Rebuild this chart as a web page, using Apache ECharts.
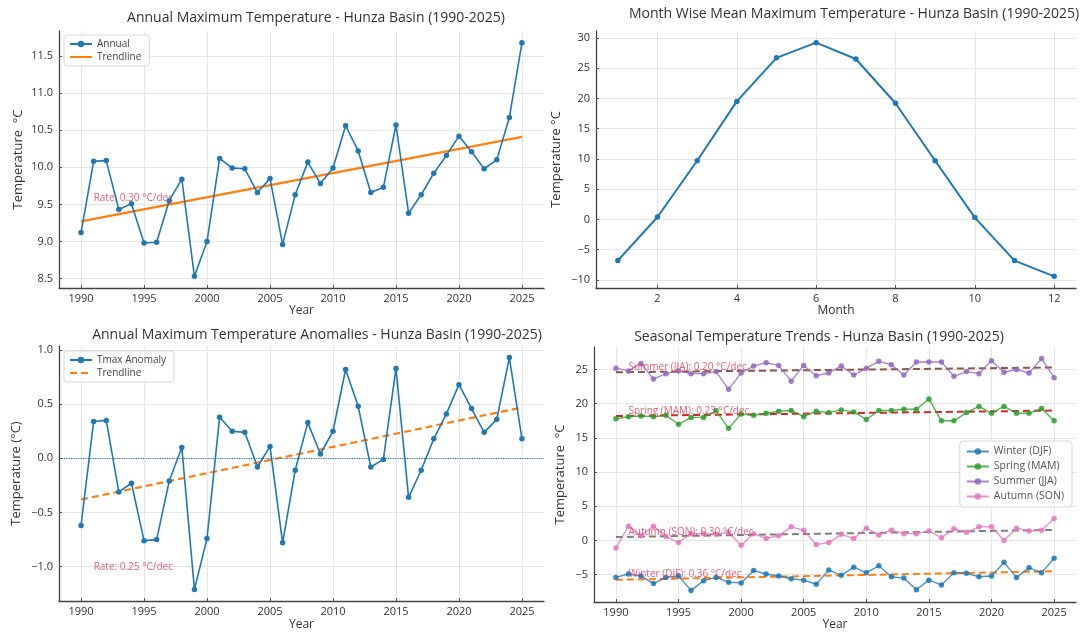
<!DOCTYPE html>
<html><head><meta charset="utf-8">
<script src="https://cdn.jsdelivr.net/npm/echarts@6/dist/echarts.min.js"></script>
<style>html,body{margin:0;padding:0;background:#fff}#c{width:1092px;height:633px}</style>
</head><body><div id="c"></div>
<script>
// ---------- data ----------
const years = [1990,1991,1992,1993,1994,1995,1996,1997,1998,1999,2000,2001,2002,2003,2004,2005,2006,2007,2008,2009,2010,2011,2012,2013,2014,2015,2016,2017,2018,2019,2020,2021,2022,2023,2024,2025];
const annualTmax = [9.12,10.08,10.09,9.43,9.51,8.98,8.99,9.55,9.84,8.53,9.00,10.12,9.99,9.98,9.66,9.85,8.96,9.63,10.07,9.78,9.99,10.56,10.22,9.66,9.73,10.57,9.38,9.63,9.92,10.16,10.42,10.21,9.98,10.10,10.67,11.68];
const annualTrend = [9.27, 10.41];          // trend values at 1990 and 2025
const annualRate = 'Rate: 0.30 °C/dec';
const anomalyTmax = [-0.62,0.34,0.35,-0.31,-0.23,-0.76,-0.75,-0.21,0.10,-1.21,-0.74,0.38,0.25,0.24,-0.08,0.11,-0.78,-0.11,0.33,0.04,0.25,0.82,0.48,-0.08,-0.01,0.83,-0.36,-0.11,0.18,0.41,0.68,0.46,0.24,0.36,0.93,0.18];
const anomalyTrend = [-0.38, 0.47];
const anomalyRate = 'Rate: 0.25 °C/dec';
const months = [1,2,3,4,5,6,7,8,9,10,11,12];
const monthlyTmax = [-6.8,0.4,9.7,19.5,26.7,29.2,26.5,19.2,9.7,0.3,-6.8,-9.4];
const winterDJF = [-5.4,-4.9,-5.2,-6.3,-5.4,-5.2,-7.3,-5.9,-5.4,-6.1,-6.2,-4.4,-4.9,-5.2,-5.6,-5.8,-6.4,-4.3,-5.1,-3.9,-4.7,-3.7,-5.3,-5.5,-7.2,-5.8,-6.5,-4.7,-4.8,-5.3,-5.2,-3.2,-5.4,-4.0,-4.7,-2.6];
const springMAM = [17.8,18.1,18.2,18.1,18.3,17.0,18.0,18.0,19.0,16.4,18.5,18.3,18.6,18.9,19.0,18.1,18.9,18.7,19.1,18.8,17.7,19.0,19.0,19.2,19.2,20.7,17.5,17.5,18.7,19.6,18.6,19.6,18.6,18.6,19.3,17.5];
const summerJJA = [25.2,24.8,25.9,23.6,24.4,24.8,24.4,24.4,24.7,22.1,24.5,25.5,26.0,25.6,23.3,25.6,24.1,24.5,25.5,24.2,25.2,26.2,25.7,24.2,26.1,26.1,26.1,24.0,24.7,24.4,26.3,24.6,25.0,24.5,26.6,23.8];
const autumnSON = [-1.1,2.1,0.7,2.1,0.6,-0.3,1.0,1.0,0.9,1.2,-0.7,1.0,0.3,0.7,2.0,1.5,-0.6,-0.3,0.9,0.3,1.8,0.8,1.5,1.0,1.0,1.4,0.4,1.7,1.2,2.0,2.0,0.0,1.8,1.4,1.5,3.2];
const winterTrend = [-5.75, -4.5];
const springTrend = [18.2, 19.0];
const summerTrend = [24.6, 25.3];
const autumnTrend = [0.5, 1.55];
const seasonRates = ['Winter (DJF): 0.36 °C/dec','Spring (MAM): 0.23 °C/dec','Summer (JJA): 0.20 °C/dec','Autumn (SON): 0.30 °C/dec'];
const yearTicks = [1990,1995,2000,2005,2010,2015,2020,2025];
const annualTicks = [8.5,9.0,9.5,10.0,10.5,11.0,11.5];
const anomalyTicks = [-1.0,-0.5,0.0,0.5,1.0];
const monthTicks = [2,4,6,8,10,12];
const monthlyTicks = [-10,-5,0,5,10,15,20,25,30];
const seasonalTicks = [-5,0,5,10,15,20,25];

// ---------- helpers ----------
const FONT = 'Open Sans';
const C = {blue:'#1f77b4',orange:'#ff7f0e',green:'#2ca02c',red:'#d62728',purple:'#9467bd',brown:'#8c564b',pink:'#e377c2',gray:'#7f7f7f'};
const RATE_COLOR = '#e0354f';
function range(arrs){
  let mn=Infinity,mx=-Infinity;
  arrs.forEach(a=>a.forEach(v=>{if(v<mn)mn=v;if(v>mx)mx=v;}));
  const m=(mx-mn)*0.05; return [mn-m,mx+m];
}
const minus = s => String(s).replace('-','\u2212');
const pairs = (xs,ys)=>xs.map((x,i)=>[x,ys[i]]);
const ends = t=>[[years[0],t[0]],[years[years.length-1],t[1]]];
const trendAt = (t,yr)=>t[0]+(t[1]-t[0])*(yr-years[0])/(years[years.length-1]-years[0]);

function axis(gridIndex, r, ticks, fmt, name, nameGap, isY){
  return {
    type:'value', gridIndex, min:r[0], max:r[1], name, nameLocation:'middle', nameGap,
    nameTextStyle:{fontFamily:FONT,fontSize:isY?13:12,color:'#333'},
    axisLine:{show:true,onZero:false,lineStyle:{color:'#444',width:1.3}},
    axisTick:{show:true,inside:true,length:3,customValues:ticks,lineStyle:{color:'#555'}},
    axisLabel:{customValues:ticks,formatter:fmt,fontFamily:FONT,fontSize:11,color:'#333',margin:isY?6:5},
    splitLine:{show:true,lineStyle:{color:'#e6e6e6',width:1}},
    splitArea:{show:false}
  };
}
const yr0 = range([years]);
const f1 = v=>minus(v.toFixed(1));
const f0 = v=>minus(String(Math.round(v)));

const lineBase = (name,xi,data,color,extra)=>Object.assign({
  name,type:'line',xAxisIndex:xi,yAxisIndex:xi,data,
  symbol:'circle',symbolSize:5.5,showSymbol:true,
  itemStyle:{color},lineStyle:{color,width:1.6},
  emphasis:{disabled:true},silent:true,animation:false,z:3
},extra||{});
const trend = (name,xi,t,color,type,w)=>({
  name,type:'line',xAxisIndex:xi,yAxisIndex:xi,data:ends(t),
  symbol:'none',showSymbol:false,itemStyle:{color},
  lineStyle:{color,width:w,type:type},emphasis:{disabled:true},silent:true,animation:false,z:2
});
const rateLabel = (xi,pt,text,vAlign)=>({
  type:'scatter',xAxisIndex:xi,yAxisIndex:xi,data:[pt],symbolSize:0,silent:true,animation:false,z:5,
  label:{show:true,position:[0,0],align:'left',verticalAlign:vAlign,formatter:text,
    fontFamily:FONT,fontSize:10,color:RATE_COLOR}
});

const legendBase = {
  orient:'vertical',backgroundColor:'rgba(255,255,255,0.85)',borderColor:'#d8d8d8',borderWidth:1,borderRadius:3,
  padding:[4,8,4,5],itemGap:3,itemWidth:22,itemHeight:8,
  textStyle:{fontFamily:FONT,fontSize:10,color:'#444'},selectedMode:false
};
const noMarker = name=>({name,itemStyle:{opacity:0}});
const titleBase = (text,left,top)=>({text,left,top,textAlign:'center',
  textStyle:{fontFamily:FONT,fontSize:14,fontWeight:'normal',color:'#333'}});

const option = {
  backgroundColor:'#fff', animation:false,
  title:[
    titleBase('Annual Maximum Temperature - Hunza Basin (1990-2025)',311,6),
    titleBase('Month Wise Mean Maximum Temperature - Hunza Basin (1990-2025)',849,2),
    titleBase('Annual Maximum Temperature Anomalies - Hunza Basin (1990-2025)',312,323),
    titleBase('Seasonal Temperature Trends - Hunza Basin (1990-2025)',814,325)
  ],
  grid:[
    {left:59,top:31,width:485,height:257,outerBoundsMode:'none'},
    {left:596,top:31,width:480,height:257,outerBoundsMode:'none'},
    {left:59,top:346,width:485,height:255,outerBoundsMode:'none'},
    {left:594,top:347,width:482,height:255,outerBoundsMode:'none'}
  ],
  xAxis:[
    axis(0,yr0,yearTicks,v=>String(v),'Year',17,false),
    axis(1,range([months]),monthTicks,v=>String(v),'Month',17,false),
    axis(2,yr0,yearTicks,v=>String(v),'Year',18,false),
    axis(3,yr0,yearTicks,v=>String(v),'Year',17,false)
  ],
  yAxis:[
    axis(0,range([annualTmax]),annualTicks,f1,'Temperature  °C',34,true),
    axis(1,range([monthlyTmax]),monthlyTicks,f0,'Temperature °C',33,true),
    axis(2,range([anomalyTmax]),anomalyTicks,f1,'Temperature (°C)',36,true),
    axis(3,range([winterDJF,springMAM,summerJJA,autumnSON]),seasonalTicks,f0,'Temperature  °C',27,true)
  ],
  legend:[
    Object.assign({},legendBase,{left:64,top:35,data:['Annual',noMarker('Trendline')]}),
    Object.assign({},legendBase,{left:64,top:351,data:['Tmax Anomaly',noMarker('Trendline*')],
      formatter:n=>n.replace('*','')}),
    Object.assign({},legendBase,{right:20,top:441,itemGap:4,padding:[5,8,5,6],textStyle:{fontFamily:FONT,fontSize:10.5,color:'#555'},
      data:['Winter (DJF)','Spring (MAM)','Summer (JJA)','Autumn (SON)']})
  ],
  series:[
    lineBase('Annual',0,pairs(years,annualTmax),C.blue),
    trend('Trendline',0,annualTrend,C.orange,'solid',2.2),
    rateLabel(0,[1991,9.58],annualRate,'middle'),

    lineBase('Monthly',1,pairs(months,monthlyTmax),C.blue,{lineStyle:{color:C.blue,width:2}}),

    lineBase('Tmax Anomaly',2,pairs(years,anomalyTmax),C.blue,{
      markLine:{silent:true,symbol:'none',label:{show:false},animation:false,
        lineStyle:{color:C.blue,type:'dotted',width:1.2},data:[{yAxis:0}]}
    }),
    trend('Trendline*',2,anomalyTrend,C.orange,[7,4],2.2),
    rateLabel(2,[1991,-1.0],anomalyRate,'middle'),

    lineBase('Winter (DJF)',3,pairs(years,winterDJF),C.blue,{lineStyle:{color:C.blue,width:1.4,opacity:0.8},itemStyle:{color:C.blue,opacity:0.85}}),
    lineBase('Spring (MAM)',3,pairs(years,springMAM),C.green,{lineStyle:{color:C.green,width:1.4,opacity:0.8},itemStyle:{color:C.green,opacity:0.85}}),
    lineBase('Summer (JJA)',3,pairs(years,summerJJA),C.purple,{lineStyle:{color:C.purple,width:1.4,opacity:0.8},itemStyle:{color:C.purple,opacity:0.85}}),
    lineBase('Autumn (SON)',3,pairs(years,autumnSON),C.pink,{lineStyle:{color:C.pink,width:1.4,opacity:0.8},itemStyle:{color:C.pink,opacity:0.85}}),
    trend('Winter trend',3,winterTrend,C.orange,[7,4],2),
    trend('Spring trend',3,springTrend,C.red,[7,4],2),
    trend('Summer trend',3,summerTrend,C.brown,[7,4],2),
    trend('Autumn trend',3,autumnTrend,C.gray,[7,4],2),
    rateLabel(3,[1991,trendAt(winterTrend,1991)],seasonRates[0],'bottom'),
    rateLabel(3,[1991,trendAt(springTrend,1991)],seasonRates[1],'bottom'),
    rateLabel(3,[1991,trendAt(summerTrend,1991)],seasonRates[2],'bottom'),
    rateLabel(3,[1991,trendAt(autumnTrend,1991)],seasonRates[3],'bottom')
  ]
};
const chart = echarts.init(document.getElementById('c'),null,{renderer:'canvas'});
chart.setOption(option);
</script></body></html>
